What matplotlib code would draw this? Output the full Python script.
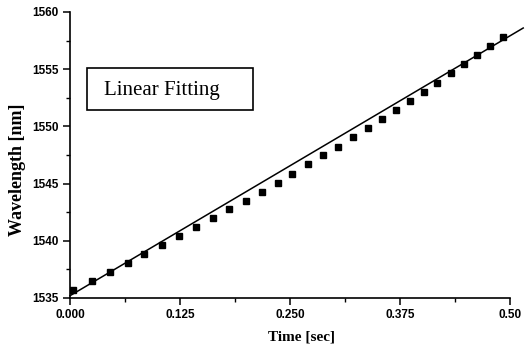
import matplotlib
matplotlib.use("Agg")
import matplotlib.pyplot as plt
from matplotlib.ticker import MultipleLocator, FixedLocator
from matplotlib.patches import Rectangle

# Measured data points
time_s = [0.0034, 0.0253, 0.0458, 0.0656, 0.0844, 0.105, 0.124, 0.143, 0.162,
          0.181, 0.200, 0.218, 0.2367, 0.2528, 0.2708, 0.2878, 0.3045, 0.322,
          0.3383, 0.3545, 0.370, 0.3864, 0.402, 0.4174, 0.4326, 0.448, 0.4628,
          0.4773, 0.4924]
wavelength_nm = [1535.7, 1536.5, 1537.25, 1538.06, 1538.85, 1539.66, 1540.42,
                 1541.2, 1541.96, 1542.75, 1543.48, 1544.3, 1545.08, 1545.84,
                 1546.69, 1547.47, 1548.23, 1549.05, 1549.89, 1550.62, 1551.43,
                 1552.25, 1553.04, 1553.83, 1554.64, 1555.43, 1556.2, 1557.0,
                 1557.78]

# Linear fit line endpoints
fit_t = [0.0, 0.515]
fit_wl = [1535.2, 1558.6]

x_ticks = [0.0, 0.125, 0.25, 0.375, 0.5]
x_tick_labels = ["0.000", "0.125", "0.250", "0.375", "0.50"]
y_ticks = [1535, 1540, 1545, 1550, 1555, 1560]

W, H = 530, 349
L, R, B, T = 70, 510, 298, 12

fig = plt.figure(figsize=(W/100, H/100), dpi=100)
ax = fig.add_axes([L/W, 1-B/H, (R-L)/W, (B-T)/H])

def axc(px, py):
    return (px-L)/(R-L), (B-py)/(B-T)

ax.plot(fit_t, fit_wl, color="black", lw=1.1, clip_on=False)
ax.plot(time_s, wavelength_nm, ls="none", marker="s", ms=4.8, color="black")

ax.set_xlim(0, 0.5)
ax.set_ylim(1535, 1560)
ax.spines["top"].set_visible(False)
ax.spines["right"].set_visible(False)
for s in ("left", "bottom"):
    ax.spines[s].set_linewidth(1.2)

ax.xaxis.set_major_locator(FixedLocator(x_ticks))
ax.set_xticklabels(x_tick_labels)
ax.xaxis.set_minor_locator(MultipleLocator(0.0625))
ax.yaxis.set_major_locator(FixedLocator(y_ticks))
ax.yaxis.set_minor_locator(MultipleLocator(2.5))

ax.tick_params(which="major", direction="out", length=5, width=1.1,
               labelsize=8.5, pad=3)
ax.tick_params(which="minor", direction="out", length=3, width=1.0)
for lab in ax.get_xticklabels() + ax.get_yticklabels():
    lab.set_fontfamily("Liberation Sans")
    lab.set_fontweight("bold")

ax.set_xlabel("Time [sec]", family="Liberation Serif", fontsize=11, fontweight="bold")
ax.set_ylabel("Wavelength [nm]", family="Liberation Serif", fontsize=13, fontweight="bold")
ax.xaxis.set_label_coords(*axc(301, 337), transform=ax.transAxes)
ax.xaxis.label.set_va("center")
ax.yaxis.set_label_coords(*axc(18, 170), transform=ax.transAxes)
ax.yaxis.label.set_va("center")

x0, y0 = axc(87, 110)
x1, y1 = axc(253, 68)
ax.add_patch(Rectangle((x0, y0), x1-x0, y1-y0, transform=ax.transAxes,
                       fc="white", ec="black", lw=1.2, zorder=3))
ax.text(*axc(162, 91), "Linear Fitting", transform=ax.transAxes,
        family="Liberation Serif", fontsize=15, ha="center", va="center", zorder=4)

fig.savefig("out.png", dpi=100)
